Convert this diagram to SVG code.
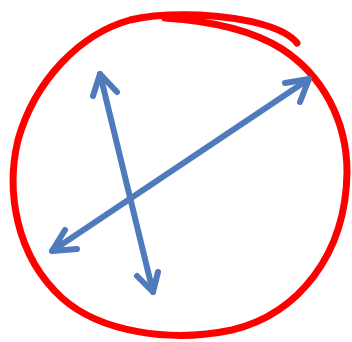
<svg xmlns="http://www.w3.org/2000/svg" width="352" height="342" viewBox="0 0 352 342">
<style>
.ring{fill:none;stroke:#ff0000;stroke-width:7;stroke-linecap:round;stroke-linejoin:round}
.arr{fill:none;stroke:#4f7bbd;stroke-width:6;stroke-linecap:round;stroke-linejoin:round}
</style>
<rect width="352" height="342" fill="#ffffff"/>
<g id="circle">
<path class="ring" d="M297,43 C285,28 250,18 200,15 C170,14 150,15 130,20 C80,34 35,80 18,140 C6,190 15,255 62,298 C100,332 170,343 232,330 C298,314 346,255 347,172 C347,120 322,75 282,49 C252,30 212,21 165,18"/>
</g>
<g id="arrow-vertical">
<path class="arr" d="M100,74 L153,292"/>
<path class="arr" d="M93,96 L100,74 L117,92"/>
<path class="arr" d="M137,276 L153,292 L158,272"/>
</g>
<g id="arrow-diagonal">
<path class="arr" d="M52,251 L309,79"/>
<path class="arr" d="M65,230 L52,251 L77,249"/>
<path class="arr" d="M285,83 L309,79 L300,102"/>
</g>
</svg>
